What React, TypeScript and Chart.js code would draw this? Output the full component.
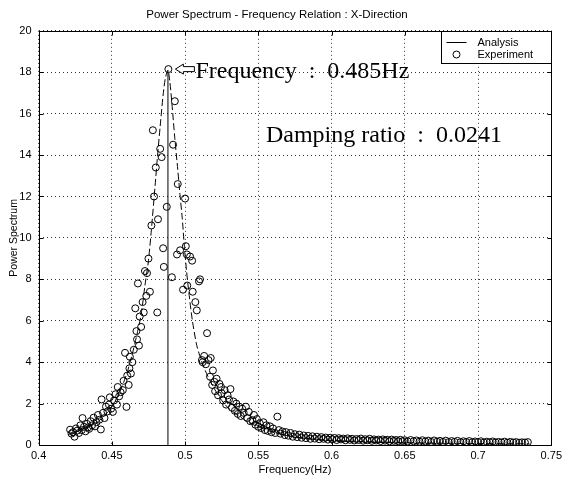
import React, { useEffect, useRef } from 'react';
import { Chart, registerables } from 'chart.js';

Chart.register(...registerables);

const W = 566;
const H = 477;

const chartTitle = 'Power Spectrum - Frequency Relation : X-Direction';
const xTitle = 'Frequency(Hz)';
const yTitle = 'Power Spectrum';
const seriesLabels = ['Analysis', 'Experiment'];
const peakLabel = 'Frequency\u2002:\u20020.485Hz';
const dampingLabel = 'Damping ratio\u2002:\u20020.0241';
const dampingLabelAt = [0.5552, 14.62];

const xTicks = [0.4, 0.45, 0.5, 0.55, 0.6, 0.65, 0.7, 0.75];
const yTicks = [0, 2, 4, 6, 8, 10, 12, 14, 16, 18, 20];

// Analysis curve
const analysisFreq = [
  0.420, 0.425, 0.430, 0.435, 0.440, 0.445, 0.450, 0.455, 0.460, 0.464,
  0.467, 0.470, 0.4726, 0.475, 0.477, 0.4795, 0.481, 0.483, 0.485, 0.4865,
  0.4883, 0.4895, 0.491, 0.493, 0.495, 0.4965, 0.498, 0.4995, 0.501, 0.503,
  0.505, 0.508, 0.512, 0.517, 0.524, 0.530, 0.536, 0.543, 0.551, 0.560,
  0.574, 0.590, 0.610, 0.630, 0.650, 0.675, 0.700, 0.735,
];
const analysisPower = [
  0.50, 0.62, 0.76, 0.90, 1.10, 1.42, 1.85, 2.50, 3.40, 4.40,
  5.30, 6.30, 7.70, 8.90, 10.40, 12.50, 13.80, 15.40, 16.90, 17.70,
  18.10, 17.60, 16.50, 14.80, 13.30, 12.10, 11.00, 9.60, 8.40, 7.10,
  6.00, 4.80, 3.90, 3.10, 2.25, 1.75, 1.45, 1.10, 0.85, 0.62,
  0.40, 0.27, 0.19, 0.14, 0.11, 0.09, 0.07, 0.06,
];

// Vertical marker at the peak
const peakFreq = [0.4883, 0.4883];
const peakPower = [0, 18.1];

// Experiment points: resonance region
const expFreq = [
  0.4215, 0.4225, 0.4235, 0.4245, 0.4255, 0.4265, 0.4275, 0.4285, 0.4295, 0.4300,
  0.4310, 0.4320, 0.4330, 0.4338, 0.4345, 0.4355, 0.4365, 0.4375, 0.4385, 0.4395,
  0.4405, 0.4415, 0.4425, 0.4430, 0.4440, 0.4450, 0.4460, 0.4470, 0.4480, 0.4486,
  0.4495, 0.4507, 0.4515, 0.4525, 0.4535, 0.4540, 0.4550, 0.4560, 0.4575, 0.4580,
  0.4590, 0.4600, 0.4605, 0.4615, 0.4620, 0.4623, 0.4630, 0.4640, 0.4650, 0.4660,
  0.4668, 0.4672, 0.4678, 0.4685, 0.4690, 0.4700, 0.4710, 0.4718, 0.4726, 0.4735,
  0.4740, 0.4750, 0.4760, 0.4770, 0.4780, 0.4788, 0.4800, 0.4810, 0.4815, 0.4830,
  0.4840, 0.4850, 0.4855, 0.4875, 0.4886, 0.4910, 0.4918, 0.4930, 0.4945, 0.4950,
  0.4966, 0.4986, 0.5000, 0.5005, 0.5012, 0.5015, 0.5034, 0.5048, 0.5052, 0.5070,
  0.5080, 0.5095, 0.5102, 0.5115, 0.5120, 0.5130, 0.5142, 0.5150, 0.5160, 0.5170,
  0.5175, 0.5185, 0.5190, 0.5200, 0.5205, 0.5215, 0.5225, 0.5235, 0.5245, 0.5250,
  0.5260, 0.5270, 0.5280, 0.5290, 0.5300, 0.5310, 0.5320, 0.5330, 0.5340, 0.5350,
  0.5360, 0.5370, 0.5380, 0.5390, 0.5400, 0.5415, 0.5425, 0.5435, 0.5445, 0.5460,
  0.5470, 0.5480, 0.5490, 0.5500,
];
const expPower = [
  0.74, 0.55, 0.62, 0.40, 0.80, 0.70, 0.58, 0.95, 0.72, 1.30,
  0.88, 0.66, 1.02, 0.85, 0.78, 1.15, 0.95, 1.32, 0.90, 1.10,
  1.45, 1.22, 0.75, 2.20, 1.55, 1.30, 1.85, 1.62, 1.95, 2.30,
  1.75, 1.60, 2.15, 2.45, 1.95, 2.80, 2.35, 2.55, 2.65, 3.10,
  4.45, 1.84, 3.35, 2.90, 3.70, 4.26, 3.45, 4.00, 4.60, 6.60,
  5.50, 5.10, 7.80, 4.80, 6.20, 5.70, 6.90, 6.40, 8.40, 7.20,
  8.30, 9.00, 7.40, 10.60, 15.20, 12.00, 13.40, 6.40, 10.90, 14.30,
  13.90, 9.50, 8.60, 11.50, 18.15, 8.10, 14.50, 16.60, 9.20, 12.60,
  9.40, 7.50, 11.90, 9.60, 9.20, 7.70, 9.10, 8.90, 7.40, 6.90,
  6.50, 7.90, 8.00, 4.10, 4.00, 4.30, 3.90, 5.40, 4.10, 3.30,
  4.20, 2.90, 3.60, 3.05, 2.60, 3.20, 2.40, 2.95, 2.80, 2.50,
  2.15, 2.65, 1.95, 2.40, 2.20, 2.70, 1.80, 2.10, 1.65, 2.00,
  1.50, 1.85, 1.40, 1.75, 1.55, 1.85, 1.30, 1.60, 1.15, 1.20,
  1.45, 0.98, 1.25, 0.88,
];

// Experiment points: high-frequency tail
const expTailFreq = [
  0.5510, 0.5520, 0.5535, 0.5545, 0.5555, 0.5565, 0.5580, 0.5590, 0.5600, 0.5615,
  0.5630, 0.5640, 0.5650, 0.5665, 0.5680, 0.5690, 0.5705, 0.5720, 0.5735, 0.5750,
  0.5765, 0.5780, 0.5795, 0.5810, 0.5825, 0.5840, 0.5855, 0.5870, 0.5885, 0.5900,
  0.5915, 0.5930, 0.5945, 0.5960, 0.5975, 0.5990, 0.6005, 0.6020, 0.6035, 0.6050,
  0.6065, 0.6080, 0.6095, 0.6110, 0.6125, 0.6140, 0.6155, 0.6170, 0.6185, 0.6200,
  0.6215, 0.6230, 0.6245, 0.6260, 0.6275, 0.6290, 0.6305, 0.6320, 0.6335, 0.6350,
  0.6365, 0.6380, 0.6395, 0.6410, 0.6425, 0.6440, 0.6455, 0.6470, 0.6485, 0.6500,
  0.6520, 0.6540, 0.6560, 0.6580, 0.6600, 0.6620, 0.6640, 0.6660, 0.6680, 0.6700,
  0.6720, 0.6740, 0.6760, 0.6780, 0.6800, 0.6820, 0.6840, 0.6860, 0.6880, 0.6900,
  0.6920, 0.6940, 0.6960, 0.6980, 0.7000, 0.7020, 0.7040, 0.7060, 0.7080, 0.7100,
  0.7120, 0.7140, 0.7160, 0.7180, 0.7200, 0.7220, 0.7240, 0.7260, 0.7280, 0.7300,
  0.7320, 0.7340,
];
const expTailPower = [
  1.05, 0.82, 1.10, 0.72, 0.95, 0.68, 0.90, 0.62, 0.80, 0.58,
  1.37, 0.72, 0.55, 0.65, 0.48, 0.62, 0.45, 0.58, 0.40, 0.52,
  0.38, 0.50, 0.35, 0.46, 0.33, 0.44, 0.30, 0.42, 0.31, 0.40,
  0.28, 0.38, 0.30, 0.36, 0.26, 0.35, 0.28, 0.34, 0.24, 0.33,
  0.27, 0.31, 0.23, 0.32, 0.25, 0.30, 0.22, 0.29, 0.24, 0.31,
  0.21, 0.28, 0.23, 0.30, 0.20, 0.27, 0.22, 0.26, 0.19, 0.27,
  0.21, 0.25, 0.18, 0.26, 0.20, 0.24, 0.18, 0.25, 0.19, 0.23,
  0.17, 0.24, 0.18, 0.22, 0.16, 0.23, 0.17, 0.21, 0.15, 0.22,
  0.16, 0.20, 0.15, 0.21, 0.14, 0.19, 0.15, 0.20, 0.13, 0.18,
  0.14, 0.19, 0.13, 0.17, 0.14, 0.18, 0.12, 0.16, 0.13, 0.17,
  0.12, 0.15, 0.12, 0.16, 0.11, 0.15, 0.12, 0.14, 0.11, 0.13,
  0.12, 0.14,
];

const SANS = '"Liberation Sans", Arial, Helvetica, sans-serif';
const SERIF = '"Liberation Serif", "Times New Roman", serif';

const toPts = (xs: number[], ys: number[]) => xs.map((x, i) => ({ x, y: ys[i] }));

const decorPlugin = {
  id: 'decor',
  afterDatasetsDraw(chart: any) {
    const { ctx, chartArea: a, scales } = chart;
    const sx = scales.x;
    const sy = scales.y;
    ctx.save();
    ctx.setLineDash([]);
    ctx.strokeStyle = '#000';
    ctx.lineWidth = 1;
    const L = Math.round(a.left) + 0.5;
    const R = Math.round(a.right) + 0.5;
    const T = Math.round(a.top) + 0.5;
    const B = Math.round(a.bottom) + 0.5;
    // inside tick marks
    ctx.beginPath();
    xTicks.forEach((v) => {
      const px = Math.round(sx.getPixelForValue(v)) + 0.5;
      ctx.moveTo(px, B); ctx.lineTo(px, B - 4);
      ctx.moveTo(px, T); ctx.lineTo(px, T + 4);
    });
    yTicks.forEach((v) => {
      const py = Math.round(sy.getPixelForValue(v)) + 0.5;
      ctx.moveTo(L, py); ctx.lineTo(L + 4, py);
      ctx.moveTo(R, py); ctx.lineTo(R - 4, py);
    });
    ctx.stroke();
    // box
    ctx.strokeRect(L, T, R - L, B - T);

    // legend
    const ds = chart.data.datasets;
    const lw = 110;
    const lh = 32;
    const lx = Math.round(a.right) - lw + 0.5;
    const ly = T;
    ctx.fillStyle = '#fff';
    ctx.fillRect(lx, ly, lw, lh);
    ctx.strokeRect(lx, ly, lw, lh);
    ctx.beginPath();
    ctx.moveTo(lx + 5, ly + 11);
    ctx.lineTo(lx + 25, ly + 11);
    ctx.stroke();
    ctx.beginPath();
    ctx.arc(lx + 15, ly + 23, 3.5, 0, Math.PI * 2);
    ctx.stroke();
    ctx.fillStyle = '#000';
    ctx.font = `11px ${SANS}`;
    ctx.textBaseline = 'middle';
    ctx.textAlign = 'left';
    ctx.fillText(ds[0].label, lx + 36, ly + 11);
    ctx.fillText(ds[1].label, lx + 36, ly + 23);

    // peak annotation
    const pX = sx.getPixelForValue(expFreq[74]);
    const pY = sy.getPixelForValue(expPower[74]);
    const tip = pX + 7;
    ctx.beginPath();
    ctx.moveTo(tip, pY);
    ctx.lineTo(tip + 8, pY - 5);
    ctx.lineTo(tip + 8, pY - 2.5);
    ctx.lineTo(tip + 19, pY - 2.5);
    ctx.lineTo(tip + 19, pY + 2.5);
    ctx.lineTo(tip + 8, pY + 2.5);
    ctx.lineTo(tip + 8, pY + 5);
    ctx.closePath();
    ctx.fillStyle = '#fff';
    ctx.fill();
    ctx.stroke();
    ctx.fillStyle = '#000';
    ctx.font = `24px ${SERIF}`;
    ctx.textBaseline = 'alphabetic';
    ctx.fillText(peakLabel, tip + 20, pY + 9);
    ctx.fillText(
      dampingLabel,
      sx.getPixelForValue(dampingLabelAt[0]),
      sy.getPixelForValue(dampingLabelAt[1])
    );
    ctx.restore();
  },
};

export default function App() {
  const ref = useRef<HTMLCanvasElement>(null);
  useEffect(() => {
    if (!ref.current) return;
    Chart.defaults.font.family = SANS;
    Chart.defaults.color = '#000';
    const chart = new Chart(ref.current, {
      type: 'scatter',
      data: {
        datasets: [
          {
            label: seriesLabels[0],
            data: toPts(analysisFreq, analysisPower),
            showLine: true,
            borderColor: '#000',
            borderWidth: 1,
            borderDash: [7, 3],
            pointRadius: 0,
            tension: 0.25,
            order: 2,
          },
          {
            label: seriesLabels[1],
            data: toPts(expFreq.concat(expTailFreq), expPower.concat(expTailPower)),
            showLine: false,
            borderColor: '#000',
            backgroundColor: 'rgba(0,0,0,0)',
            pointRadius: 3.5,
            pointBorderWidth: 1,
            order: 1,
          },
          {
            label: 'peak',
            data: toPts(peakFreq, peakPower),
            showLine: true,
            borderColor: '#000',
            borderWidth: 1,
            pointRadius: 0,
            order: 3,
          },
        ],
      },
      options: {
        responsive: false,
        animation: false,
        layout: { padding: { left: 0, right: 12, top: 0, bottom: 0 } },
        plugins: {
          legend: { display: false },
          tooltip: { enabled: false },
          title: {
            display: true,
            text: chartTitle,
            color: '#000',
            font: { size: 11.5, weight: 'normal', family: SANS },
            padding: { top: 8, bottom: 9 },
          },
        },
        scales: {
          x: {
            type: 'linear',
            min: 0.4,
            max: 0.75,
            afterFit: (s: any) => { s.height = 32; },
            afterBuildTicks: (s: any) => { s.ticks = xTicks.map((v) => ({ value: v })); },
            ticks: {
              font: { size: 11 },
              color: '#000',
              padding: 4,
              maxRotation: 0,
              callback: (v: any) => String(Number(Number(v).toFixed(2))),
            },
            grid: { color: '#333', lineWidth: 1, drawTicks: false },
            border: { display: false, dash: [1, 3] },
            title: {
              display: true,
              text: xTitle,
              color: '#000',
              font: { size: 11 },
              padding: { top: 0, bottom: 0 },
            },
          },
          y: {
            type: 'linear',
            min: 0,
            max: 20,
            afterFit: (s: any) => { s.width = 38.6; },
            afterBuildTicks: (s: any) => { s.ticks = yTicks.map((v) => ({ value: v })); },
            ticks: { font: { size: 11 }, color: '#000', padding: 7 },
            grid: { color: '#333', lineWidth: 1, drawTicks: false },
            border: { display: false, dash: [1, 3] },
            title: {
              display: true,
              text: yTitle,
              color: '#000',
              font: { size: 10.5 },
              padding: { top: 8, bottom: 0 },
            },
          },
        },
      },
      plugins: [decorPlugin],
    });
    return () => chart.destroy();
  }, []);
  return (
    <div style={{ position: 'absolute', left: 0, top: 0, width: W, height: H, background: '#fff' }}>
      <canvas ref={ref} width={W} height={H} style={{ display: 'block' }} />
    </div>
  );
}
